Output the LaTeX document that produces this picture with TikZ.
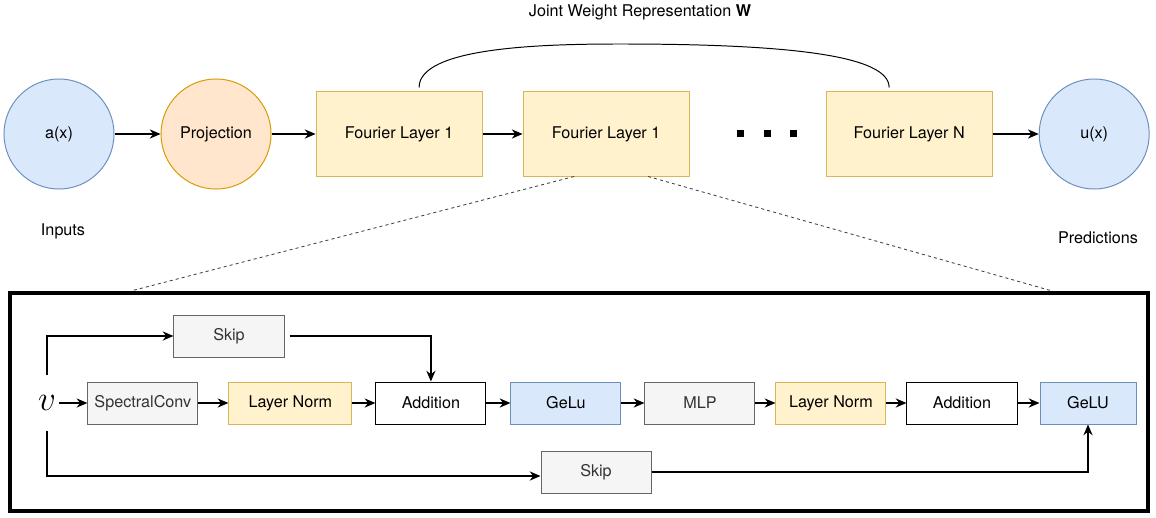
\documentclass[tikz,border=0pt]{standalone}
\usepackage{fontspec}
\setmainfont{TeX Gyre Heros}
\usetikzlibrary{positioning,arrows.meta}

\definecolor{blueFill}{HTML}{DAE8FC}
\definecolor{blueLine}{HTML}{6C8EBF}
\definecolor{orangeFill}{HTML}{FFE6CC}
\definecolor{orangeLine}{HTML}{D79B00}
\definecolor{yellowFill}{HTML}{FFF2CC}
\definecolor{yellowLine}{HTML}{D6B656}
\definecolor{grayFill}{HTML}{F5F5F5}
\definecolor{grayLine}{HTML}{666666}
\definecolor{grayText}{HTML}{333333}

\tikzset{
  incircle/.style={circle,draw=blueLine,fill=blueFill,line width=0.7pt,minimum size=2.75cm},
  projcircle/.style={circle,draw=orangeLine,fill=orangeFill,line width=0.7pt,minimum size=2.75cm},
  fourier/.style={rectangle,draw=yellowLine,fill=yellowFill,line width=0.7pt,minimum width=4.15cm,minimum height=2.1cm},
  blockbox/.style={rectangle,line width=0.7pt,minimum width=2.75cm,minimum height=1.05cm,inner sep=1pt},
  graybox/.style={blockbox,draw=grayLine,fill=grayFill,text=grayText},
  yellowbox/.style={blockbox,draw=yellowLine,fill=yellowFill},
  bluebox/.style={blockbox,draw=blueLine,fill=blueFill},
  plainbox/.style={blockbox,draw=black,fill=white},
  zoomline/.style={draw=black!75,line width=0.6pt,dash pattern=on 2.2pt off 2.2pt},
}

\begin{document}
\begin{tikzpicture}[x=0.025cm,y=-0.025cm,font=\fontsize{11.5}{14}\selectfont,
  >={Stealth[length=2.7mm,width=2.3mm]},line width=0.9pt]
 \useasboundingbox (0,0) rectangle (1156,518);

 % top row
 \node[incircle] (ax) at (59,134) {a(x)};
 \node[projcircle] (proj) [right=1.15cm of ax] {Projection};
 \node[fourier] (layer1) [right=1.1cm of proj] {Fourier Layer 1};
 \node[fourier] (layer2) [right=1cm of layer1] {Fourier Layer 1};
 \node[fourier] (layerN) [right=3.4cm of layer2] {Fourier Layer N};
 \node[incircle] (ux) [right=1.15cm of layerN] {u(x)};

 \node (inputs) at (63,231) {Inputs};
 \node (preds) at (1098,238) {Predictions};
 \node (joint) at (640,12) {Joint Weight Representation \textbf{W}};

 \foreach \x in {740,767,793}
   \fill (\x-3.5,130.5) rectangle (\x+3.5,137.5);

 \path[draw] (ax) edge [->] (proj);
 \path[draw] (proj) edge [->] (layer1);
 \path[draw] (layer1) edge [->] (layer2);
 \path[draw] (layerN) edge [->] (ux);

 \draw[line width=0.7pt] ([xshift=0.5cm,yshift=0.1cm]layer1.north) .. controls +(0,-40) and +(-80,0) .. (620,44)
   .. controls +(170,0) and +(0,-32) .. ([xshift=-0.5cm,yshift=0.1cm]layerN.north);

 % zoomed block
 \node[draw,line width=0.1cm,minimum width=28.45cm,minimum height=5.45cm,inner sep=0] (frame) at (579,402) {};

 \draw[zoomline] ([xshift=-0.8cm]layer2.south) -- ([xshift=3.075cm]frame.north west);
 \draw[zoomline] ([xshift=1.05cm]layer2.south) -- ([xshift=-2.45cm]frame.north east);

 \node[inner xsep=2pt,inner ysep=0,minimum height=1.35cm] (v) at (47,403) {\Huge$v$};
 \node[graybox] (spec) [right=0.7cm of v] {SpectralConv};
 \node[yellowbox,minimum width=3.075cm] (norm1) [right=0.75cm of spec] {Layer Norm};
 \node[plainbox] (add1) [right=0.575cm of norm1] {Addition};
 \node[bluebox] (gelu1) [right=0.6cm of add1] {GeLu};
 \node[graybox] (mlp) [right=0.575cm of gelu1] {MLP};
 \node[yellowbox] (norm2) [right=0.5cm of mlp] {Layer Norm};
 \node[plainbox] (add2) [right=0.5cm of norm2] {Addition};
 \node[bluebox,minimum width=2.4cm] (gelu2) [right=0.55cm of add2] {GeLU};

 \node[graybox] (skip1) at (229,336) {Skip};
 \node[graybox] (skip2) at (596,472) {Skip};

 \path[draw] (v) edge [->] (spec);
 \path[draw] (spec) edge [->] (norm1);
 \path[draw] (norm1) edge [->] (add1);
 \path[draw] (add1) edge [->] (gelu1);
 \path[draw] (gelu1) edge [->] (mlp);
 \path[draw] (mlp) edge [->] (norm2);
 \path[draw] (norm2) edge [->] (add2);
 \path[draw] (add2) edge [->] (gelu2);

 \draw[->] (v.north) |- (skip1.west);
 \draw[->] ([xshift=0.125cm]skip1.east) -| (add1.north);
 \draw[->] (v.south) |- ([yshift=-0.1cm]skip2.west);
 \draw[->] (skip2.east) -| (gelu2.south);
\end{tikzpicture}
\end{document}
